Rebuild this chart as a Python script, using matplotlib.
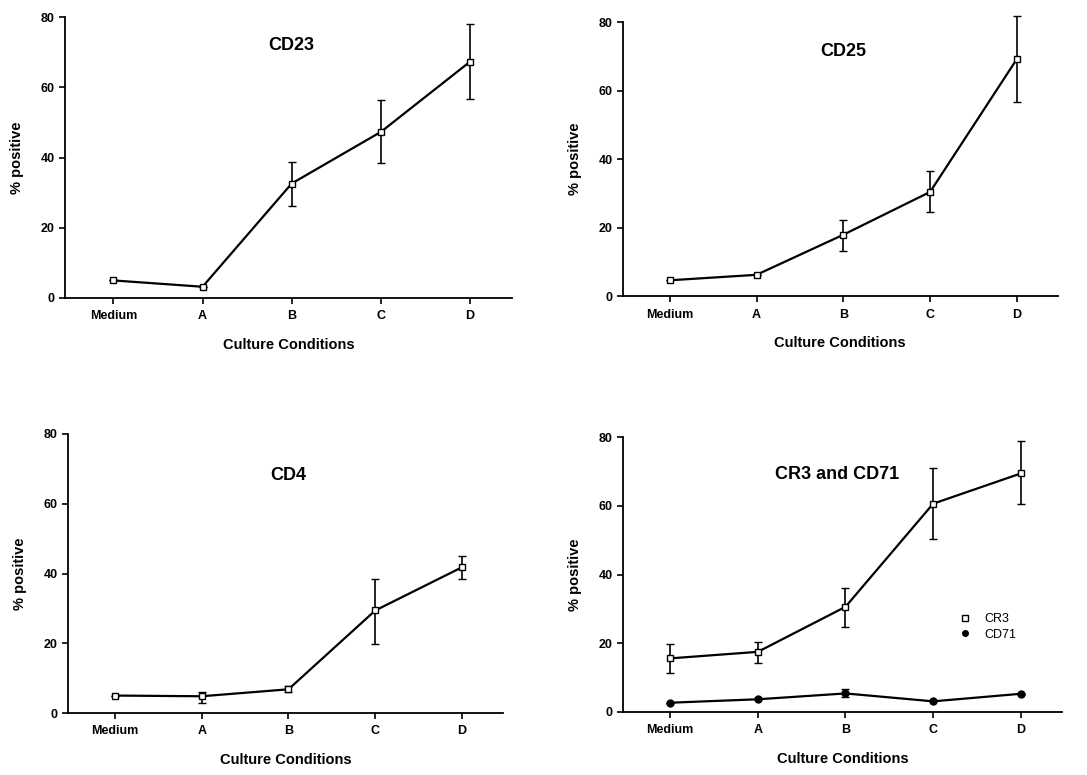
import matplotlib
matplotlib.use("Agg")
import matplotlib.pyplot as plt
from matplotlib.lines import Line2D

plt.rcParams['font.family'] = ['Liberation Sans', 'DejaVu Sans']
plt.rcParams['font.weight'] = 'bold'

conditions = ["Medium", "A", "B", "C", "D"]

cd23 = [5.0, 3.2, 32.6, 47.3, 67.3]
cd23_lo = [0, 0, 6.5, 8.9, 10.7]
cd23_hi = [0, 0, 6.2, 9.1, 10.7]

cd25 = [4.6, 6.2, 17.9, 30.4, 69.2]
cd25_lo = [0, 0, 4.6, 5.9, 12.6]
cd25_hi = [0, 0, 4.3, 6.1, 12.7]

cd4 = [5.0, 4.8, 6.8, 29.4, 41.8]
cd4_lo = [0, 2.0, 0.9, 9.6, 3.3]
cd4_hi = [0, 1.2, 0.8, 9.0, 3.1]

cr3 = [15.6, 17.5, 30.6, 60.6, 69.4]
cr3_lo = [4.4, 3.2, 5.8, 10.4, 9.0]
cr3_hi = [4.2, 2.9, 5.6, 10.4, 9.4]

cd71 = [2.7, 3.7, 5.4, 3.1, 5.3]
cd71_lo = [0, 0, 1.0, 0, 0]
cd71_hi = [0, 0, 1.2, 0, 0]

fig = plt.figure(figsize=(10.87, 7.75), dpi=100)

panels = [
    ([0.060, 0.6155, 0.411, 0.3625], "CD23", 2.0, 72),
    ([0.573, 0.618, 0.400, 0.3535], "CD25", 2.0, 71.5),
    ([0.0626, 0.080, 0.400, 0.360], "CD4", 2.0, 68),
    ([0.573, 0.0813, 0.404, 0.3548], "CR3 and CD71", 1.9, 69),
]

x = list(range(len(conditions)))


def style(ax, title, tx, ty):
    ax.set_xlim(-0.54, 4.47)
    ax.set_ylim(0, 80)
    ax.set_yticks([0, 20, 40, 60, 80])
    ax.set_xticks(x)
    ax.set_xticklabels(conditions)
    for s in ["top", "right"]:
        ax.spines[s].set_visible(False)
    ax.spines["left"].set_linewidth(1.3)
    ax.spines["bottom"].set_linewidth(1.3)
    ax.tick_params(axis="both", labelsize=9, width=1.2, length=4, direction="out")
    ax.tick_params(axis="x", pad=5)
    for lab in ax.get_xticklabels() + ax.get_yticklabels():
        lab.set_fontweight("bold")
    ax.set_xlabel("Culture Conditions", fontsize=10.5, fontweight="bold", labelpad=11)
    ax.set_ylabel("% positive", fontsize=10.5, fontweight="bold", labelpad=12)
    ax.text(tx, ty, title, fontsize=13, fontweight="bold", ha="center", va="center")


def draw(ax, y, lo, hi, marker, fill, label=None):
    ax.errorbar(x, y, yerr=[lo, hi], color="black", lw=1.6, elinewidth=1.2,
                capsize=3, capthick=1.2, marker=marker, markersize=5,
                markerfacecolor=fill, markeredgecolor="black", markeredgewidth=1.0,
                label=label, clip_on=False, zorder=3)


axes = [fig.add_axes(p[0]) for p in panels]

draw(axes[0], cd23, cd23_lo, cd23_hi, "s", "white")
draw(axes[1], cd25, cd25_lo, cd25_hi, "s", "white")
draw(axes[2], cd4, cd4_lo, cd4_hi, "s", "white")
draw(axes[3], cr3, cr3_lo, cr3_hi, "s", "white", "CR3")
draw(axes[3], cd71, cd71_lo, cd71_hi, "o", "black", "CD71")

for ax, p in zip(axes, panels):
    style(ax, p[1], p[2], p[3])

handles = [Line2D([], [], ls="none", marker="s", markersize=4, markerfacecolor="white",
                  markeredgecolor="black"),
           Line2D([], [], ls="none", marker="o", markersize=4, markerfacecolor="black",
                  markeredgecolor="black")]
leg = axes[3].legend(handles, ["CR3", "CD71"], loc="center left",
                     bbox_to_anchor=(0.74, 0.31), frameon=False, fontsize=9,
                     handletextpad=1.0, labelspacing=0.3, handlelength=1.0)
for t in leg.get_texts():
    t.set_fontweight("normal")

fig.savefig("out.png", dpi=100)
